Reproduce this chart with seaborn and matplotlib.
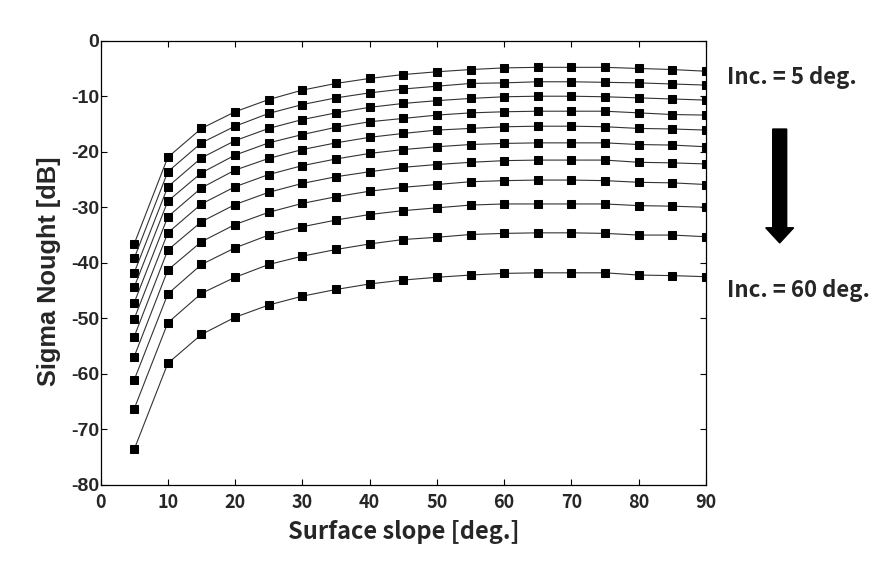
import matplotlib
matplotlib.use("Agg")
import matplotlib.pyplot as plt
from matplotlib.patches import FancyArrow
import seaborn as sns
import pandas as pd
import numpy as np

# Surface slope [deg.]
slope = [5, 10, 15, 20, 25, 30, 35, 40, 45, 50, 55, 60, 65, 70, 75, 80, 85, 90]

# Sigma nought [dB], one series per incidence angle (top = 5 deg, bottom = 60 deg)
s01 = [-36.6, -21.0, -15.8, -12.8, -10.6, -8.9, -7.7, -6.8, -6.1, -5.6, -5.2, -4.9, -4.8, -4.8, -4.8, -5.0, -5.2, -5.5]
s02 = [-39.2, -23.6, -18.4, -15.4, -13.1, -11.5, -10.3, -9.4, -8.7, -8.2, -7.7, -7.6, -7.4, -7.4, -7.5, -7.6, -7.8, -8.0]
s03 = [-41.8, -26.3, -21.1, -18.0, -15.8, -14.2, -13.0, -12.0, -11.3, -10.8, -10.4, -10.1, -10.0, -10.0, -10.1, -10.3, -10.5, -10.7]
s04 = [-44.4, -28.9, -23.8, -20.6, -18.4, -16.9, -15.6, -14.6, -14.0, -13.4, -13.0, -12.8, -12.7, -12.7, -12.7, -13.0, -13.3, -13.4]
s05 = [-47.2, -31.7, -26.5, -23.3, -21.2, -19.6, -18.4, -17.4, -16.7, -16.1, -15.8, -15.5, -15.4, -15.4, -15.5, -15.8, -15.9, -16.1]
s06 = [-50.1, -34.6, -29.4, -26.3, -24.1, -22.5, -21.3, -20.3, -19.6, -19.1, -18.7, -18.5, -18.4, -18.4, -18.4, -18.7, -18.8, -19.1]
s07 = [-53.3, -37.7, -32.6, -29.5, -27.3, -25.7, -24.5, -23.6, -22.8, -22.3, -21.9, -21.6, -21.5, -21.5, -21.5, -21.9, -22.0, -22.2]
s08 = [-56.9, -41.3, -36.2, -33.1, -30.9, -29.3, -28.1, -27.1, -26.4, -25.9, -25.4, -25.2, -25.1, -25.1, -25.2, -25.5, -25.6, -25.9]
s09 = [-61.1, -45.6, -40.3, -37.3, -35.0, -33.5, -32.3, -31.3, -30.6, -30.1, -29.6, -29.4, -29.4, -29.4, -29.4, -29.7, -29.8, -30.0]
s10 = [-66.3, -50.8, -45.5, -42.6, -40.3, -38.8, -37.6, -36.6, -35.8, -35.4, -34.9, -34.7, -34.6, -34.6, -34.7, -35.0, -35.0, -35.3]
s11 = [-73.6, -58.1, -52.9, -49.8, -47.6, -46.0, -44.8, -43.8, -43.1, -42.6, -42.2, -41.9, -41.8, -41.8, -41.8, -42.2, -42.3, -42.5]
series = [s01, s02, s03, s04, s05, s06, s07, s08, s09, s10, s11]

x_ticks = [0, 10, 20, 30, 40, 50, 60, 70, 80, 90]
y_ticks = [0, -10, -20, -30, -40, -50, -60, -70, -80]
label_top = "Inc. = 5 deg."
label_bottom = "Inc. = 60 deg."

rows = []
for i, s in enumerate(series):
    for xv, yv in zip(slope, s):
        rows.append({"slope": xv, "sigma": yv, "curve": f"c{i:02d}"})
df = pd.DataFrame(rows)

sns.set_style("white")
plt.rcParams['font.family'] = ['DejaVu Sans']

KR = ["Noto Sans CJK KR", "DejaVu Sans"]
AR = ["Liberation Sans", "DejaVu Sans"]

fig = plt.figure(figsize=(8.85, 5.61), dpi=100)
ax = fig.add_axes([0.1136, 0.1355, 0.7977 - 0.1136, 0.9275 - 0.1355])

sns.lineplot(data=df, x="slope", y="sigma", hue="curve",
             palette=["#333333"] * len(series), marker="s", markersize=5.5,
             markeredgecolor="black", markerfacecolor="black",
             linewidth=0.8, legend=False, ax=ax, estimator=None, sort=True)

ax.set_xlim(0, 90)
ax.set_ylim(-80, 0)
ax.set_xticks(x_ticks)
ax.set_yticks(y_ticks)
ax.set_xticklabels([str(v) for v in x_ticks], fontfamily=KR,
                   fontweight="bold", fontsize=13)
ax.set_yticklabels([str(v) for v in y_ticks], fontfamily=AR,
                   fontweight="bold", fontsize=14)
ax.tick_params(direction="in", length=4, width=0.8, top=True, right=True,
               bottom=True, left=True, color="black")
ax.tick_params(axis="x", pad=5.5)
ax.tick_params(axis="y", pad=1)
for sp in ax.spines.values():
    sp.set_visible(True)
    sp.set_color("black")
    sp.set_linewidth(0.9)

ax.set_xlabel("Surface slope [deg.]", fontfamily=KR,
              fontweight="bold", fontsize=17, labelpad=6)
ax.set_ylabel("Sigma Nought [dB]", fontfamily=AR,
              fontweight="bold", fontsize=18.3)
ax.yaxis.set_label_coords(-0.066, 0.48)

fig.text(0.821, 0.861, label_top, fontfamily=KR,
         fontweight="bold", fontsize=16, va="center", ha="left")
fig.text(0.821, 0.483, label_bottom, fontfamily=KR,
         fontweight="bold", fontsize=16, va="center", ha="left")

arrow = FancyArrow(0.881, 0.770, 0.0, -0.203, width=0.0158, head_width=0.0316,
                   head_length=0.027, length_includes_head=True,
                   transform=fig.transFigure, color="black")
fig.patches.append(arrow)

fig.savefig("out.png", dpi=100, facecolor="white")
